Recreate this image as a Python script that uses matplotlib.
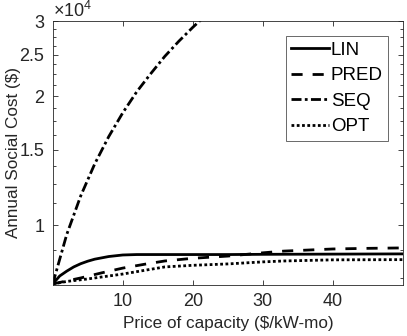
import numpy as np
import matplotlib
matplotlib.use("Agg")
import matplotlib.pyplot as plt
from matplotlib.ticker import FixedLocator, NullLocator, NullFormatter

plt.rcParams['font.family'] = ['Liberation Sans', 'DejaVu Sans']
plt.rcParams['mathtext.fontset'] = 'custom'
plt.rcParams['mathtext.rm'] = 'Liberation Sans'

# ---- data ----
x_lin = [0, 1, 2, 3, 4, 5, 6, 8, 10, 12, 15, 20, 25, 30, 40, 50]
lin = [7280, 7600, 7800, 7980, 8120, 8230, 8320, 8440, 8510, 8530, 8530, 8530, 8530, 8540, 8550, 8560]

x_pred = [0, 2, 4, 7, 10, 13, 16, 20, 25, 30, 33, 40, 45, 50]
pred = [7280, 7400, 7520, 7730, 7930, 8090, 8240, 8360, 8460, 8610, 8690, 8790, 8820, 8840]

x_seq = [0, 2, 4, 6, 8, 10, 12, 14, 16, 18, 20, 22]
seq = [7280, 9500, 11700, 13900, 16100, 18300, 20500, 22600, 24800, 26900, 29000, 31100]

x_opt = [0, 2, 5, 7, 10, 13, 16, 20, 25, 30, 33, 40, 50]
opt = [7280, 7380, 7480, 7560, 7680, 7830, 7980, 8050, 8110, 8200, 8240, 8290, 8300]

series_names = ['LIN', 'PRED', 'SEQ', 'OPT']
y_ticks = [10000, 15000, 20000, 25000, 30000]
y_ticklabels = ['1', '1.5', '2', '2.5', '3']
x_ticks = [10, 20, 30, 40]

W, H = 407, 336
fig = plt.figure(figsize=(W / 100, H / 100), dpi=100)
ax = fig.add_axes([52.7 / W, 1 - 285 / H, (403 - 52.7) / W, (285 - 21) / H])

lw = 2.0
ax.plot(x_lin, lin, color='k', lw=lw, label=series_names[0])
ax.plot(x_pred, pred, color='k', lw=lw, dashes=(4.0, 3.6), label=series_names[1])
ax.plot(x_seq, seq, color='k', lw=lw, dashes=(3.6, 1.2, 1.0, 1.2), label=series_names[2])
ax.plot(x_opt, opt, color='k', lw=lw, dashes=(1.0, 0.9), label=series_names[3])

ax.set_yscale('log')
ax.set_xlim(0, 50)
ax.set_ylim(7240, 30000)

ax.yaxis.set_major_locator(FixedLocator(y_ticks))
ax.set_yticklabels(y_ticklabels)
ax.yaxis.set_minor_locator(FixedLocator(np.arange(7500, 30001, 1250)))
ax.yaxis.set_minor_formatter(NullFormatter())
ax.xaxis.set_major_locator(FixedLocator(x_ticks))
ax.xaxis.set_minor_locator(NullLocator())

gray = '#262626'
for s in ax.spines.values():
    s.set_color(gray)
    s.set_linewidth(0.6)
ax.tick_params(which='both', direction='in', top=True, right=True, colors=gray,
               labelsize=13, width=0.6)
ax.tick_params(which='major', length=3.5, pad=6)
ax.tick_params(which='minor', length=2)
for lbl in ax.get_xticklabels() + ax.get_yticklabels():
    lbl.set_color(gray)

ax.set_xlabel('Price of capacity ($/kW-mo)', fontsize=12.3, color=gray, labelpad=4)
ax.set_ylabel('Annual Social Cost ($)', fontsize=12.3, color=gray)
ax.yaxis.set_label_coords((21 - 52.7) / 350.3, 0.5)

ax.text(0.0, 1.0, r'$\mathregular{×10^{4}}$', transform=ax.transAxes,
        ha='left', va='bottom', fontsize=13, color=gray)

leg = ax.legend(loc='upper right', bbox_to_anchor=(0.958, 0.943), fontsize=13.5,
                frameon=True, fancybox=False, handlelength=2.0, handletextpad=0.1,
                borderpad=0.3, labelspacing=0.45, borderaxespad=0)
leg.get_frame().set_edgecolor(gray)
leg.get_frame().set_linewidth(0.6)

fig.savefig('out.png', dpi=100)
